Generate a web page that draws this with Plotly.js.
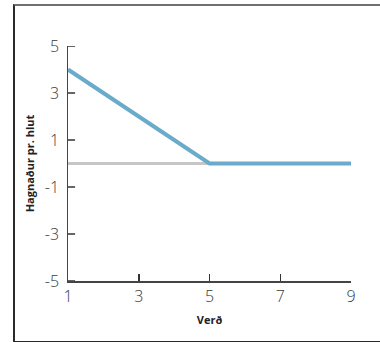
<!DOCTYPE html>
<html>
<head>
<meta charset="utf-8">
<script src="https://cdn.plot.ly/plotly-3.0.1.min.js"></script>
<style>
  html, body { margin: 0; padding: 0; background: #fff; }
  #wrap { position: relative; width: 380px; height: 342px; }
  #chart { position: absolute; left: 0; top: 0; width: 380px; height: 342px; }
  #frame {
    position: absolute; left: 13px; top: 4px; width: 367px; height: 335px;
    border-left: 2px solid #2a2a2a; border-top: 2px solid #707070;
    border-bottom: 2px solid #2a2a2a; pointer-events: none;
  }
</style>
</head>
<body>
<div id="wrap">
  <div id="chart"></div>
  <div id="frame"></div>
</div>
<script>
// Profit per unit against price
const price = [1, 5, 9];
const profit = [4, 0, 0];
const xTicks = [1, 3, 5, 7, 9];
const yTicks = [5, 3, 1, -1, -3, -5];

const axisFont = { family: '"Open Sans", "Noto Sans", sans-serif', size: 16, color: '#3a3a3a', weight: 300 };
const titleFont = { family: '"Open Sans", "Noto Sans", sans-serif', size: 11, color: '#222', weight: 'bold' };

const trace = {
  x: price,
  y: profit,
  type: 'scatter',
  mode: 'lines',
  line: { color: '#6aaaca', width: 4 },
  hoverinfo: 'skip'
};

// short marks on the inner side of the value axis, one per tick value
const yTickMarks = yTicks.map(v => ({
  type: 'line', xref: 'paper', yref: 'y',
  x0: 0, x1: 0.025, y0: v, y1: v,
  line: { color: '#333', width: 1.5 }
}));

const layout = {
  width: 380,
  height: 342,
  margin: { l: 68, r: 29, t: 46, b: 61 },
  paper_bgcolor: '#fff',
  plot_bgcolor: '#fff',
  showlegend: false,
  shapes: yTickMarks,
  xaxis: {
    range: [1, 9],
    tickvals: xTicks,
    ticktext: xTicks.map(String),
    ticks: 'inside',
    ticklen: 7,
    tickwidth: 1.5,
    tickcolor: '#333',
    showline: true,
    linecolor: '#444',
    linewidth: 1.5,
    showgrid: false,
    zeroline: false,
    tickfont: axisFont,
    title: { text: 'Verð', font: titleFont, standoff: 10 }
  },
  yaxis: {
    range: [-5, 5],
    tickvals: yTicks,
    ticktext: yTicks.map(v => v + ' '),
    ticks: '',
    showline: true,
    linecolor: '#444',
    linewidth: 1.5,
    showgrid: false,
    zeroline: true,
    zerolinecolor: '#c6c6c6',
    zerolinewidth: 2.5,
    tickfont: axisFont,
    title: { text: 'Hagnaður pr. hlut', font: titleFont, standoff: 8 }
  }
};

Plotly.newPlot('chart', [trace], layout, { staticPlot: true, displayModeBar: false });
</script>
</body>
</html>
